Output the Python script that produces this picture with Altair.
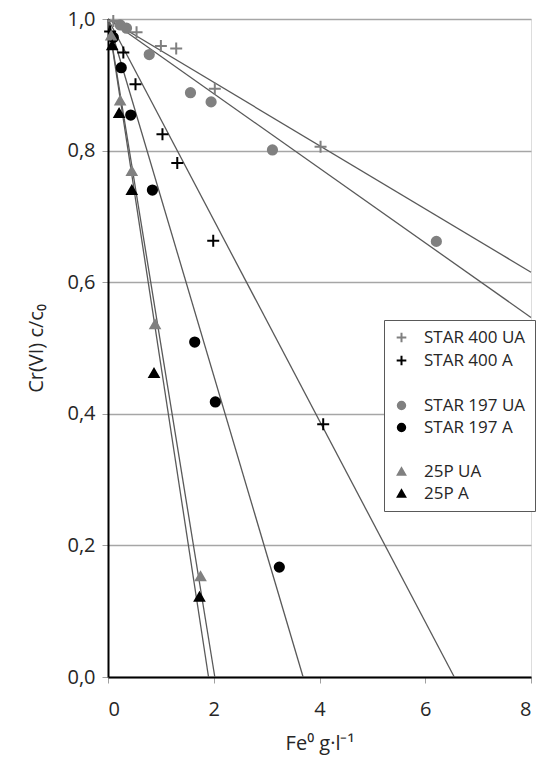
import altair as alt
import pandas as pd

# ---- data ----
series_names = ["STAR 400 UA", "STAR 400 A", "STAR 197 UA", "STAR 197 A", "25P UA", "25P A"]

star400ua_x = [0.10, 0.54, 1.00, 1.29, 2.02, 4.02]
star400ua_y = [0.997, 0.980, 0.959, 0.955, 0.894, 0.806]

star400a_x = [0.04, 0.29, 0.52, 1.03, 1.31, 1.99, 4.07]
star400a_y = [0.981, 0.949, 0.901, 0.825, 0.781, 0.663, 0.384]

star197ua_x = [0.23, 0.35, 0.78, 1.56, 1.95, 3.11, 6.21]
star197ua_y = [0.991, 0.986, 0.946, 0.888, 0.874, 0.801, 0.662]

star197a_x = [0.10, 0.25, 0.43, 0.84, 1.64, 2.03, 3.24]
star197a_y = [0.972, 0.926, 0.854, 0.740, 0.509, 0.418, 0.167]

p25ua_x = [0.06, 0.23, 0.45, 0.89, 1.75]
p25ua_y = [0.975, 0.876, 0.769, 0.536, 0.153]

p25a_x = [0.08, 0.21, 0.45, 0.87, 1.73]
p25a_y = [0.960, 0.857, 0.740, 0.462, 0.122]

# linear trend lines c/c0 = 1 + slope * Fe
trend_slopes = [-0.0481, -0.1527, -0.0567, -0.2710, -0.4950, -0.5260]

x_ticks = [0, 2, 4, 6, 8]
y_ticks = [0.0, 0.2, 0.4, 0.6, 0.8, 1.0]

# ---- build tables ----
xs = [star400ua_x, star400a_x, star197ua_x, star197a_x, p25ua_x, p25a_x]
ys = [star400ua_y, star400a_y, star197ua_y, star197a_y, p25ua_y, p25a_y]
rows = []
for name, sx, sy in zip(series_names, xs, ys):
    for a, b in zip(sx, sy):
        rows.append({"series": name, "x": a, "y": b})
pts = pd.DataFrame(rows)

x_max = 8.0
lrows = []
for name, s in zip(series_names, trend_slopes):
    x_end = min(x_max, -1.0 / s)
    lrows.append({"series": name, "x": 0.0, "y": 1.0})
    lrows.append({"series": name, "x": x_end, "y": 1.0 + s * x_end})
lines = pd.DataFrame(lrows)

# legend order with two blank spacer entries
gap1, gap2 = "gap1", "gap2"
legend_domain = ["STAR 400 UA", "STAR 400 A", gap1, "STAR 197 UA", "STAR 197 A", gap2, "25P UA", "25P A"]
GREY = "#808080"
BLACK = "#000000"
colour_range = [GREY, BLACK, "transparent", GREY, BLACK, "transparent", GREY, BLACK]
PLUS = "M-1.3,0H1.3M0,-1.3V1.3"
shape_range = [PLUS, PLUS, "circle", "circle", "circle", "circle", "triangle-up", "triangle-up"]

FONT = "Open Sans"

legend = alt.Legend(
    title=None,
    orient="none",
    legendX=276,
    legendY=301,
    padding=9,
    strokeColor="#595959",
    fillColor="white",
    labelFont=FONT,
    labelFontSize=17,
    labelColor="#262626",
    symbolSize=55,
    symbolStrokeWidth=2,
    rowPadding=4,
    labelOffset=14,
    labelExpr="indexof(datum.label, 'gap') >= 0 ? '' : datum.label",
)

xscale = alt.Scale(domain=[0, 8], nice=False)
yscale = alt.Scale(domain=[0, 1], nice=False)

xaxis = alt.Axis(
    values=x_ticks, title="Fe⁰ g·l⁻¹", grid=False,
    domainColor="black", domainWidth=2, tickColor="#a0a0a0", tickSize=6,
    labelFont=FONT, labelFontSize=20, labelColor="#262626", labelPadding=16,
    titleFont=FONT, titleFontSize=20, titleFontWeight="normal", titleColor="#262626", titlePadding=14,
)
yaxis = alt.Axis(
    values=y_ticks, title="Cr(VI) c/c₀", grid=True, gridColor="#a6a6a6", gridWidth=1.5,
    labelExpr="replace(format(datum.value, '.1f'), '.', ',')",
    domainColor="black", domainWidth=2, tickColor="#a0a0a0", tickSize=6,
    labelFont=FONT, labelFontSize=20, labelColor="#262626", labelPadding=7,
    titleFont=FONT, titleFontSize=20, titleFontWeight="normal", titleColor="#262626", titlePadding=20,
)

line_layer = alt.Chart(lines).mark_line(color="#595959", strokeWidth=1.3).encode(
    x=alt.X("x:Q", scale=xscale, axis=xaxis),
    y=alt.Y("y:Q", scale=yscale, axis=yaxis),
    detail="series:N",
)

point_layer = alt.Chart(pts).mark_point(filled=True, size=85, strokeWidth=2, opacity=1).encode(
    x=alt.X("x:Q", scale=xscale, axis=xaxis),
    y=alt.Y("y:Q", scale=yscale, axis=yaxis),
    shape=alt.Shape("series:N", scale=alt.Scale(domain=legend_domain, range=shape_range), legend=legend),
    fill=alt.Fill("series:N", scale=alt.Scale(domain=legend_domain, range=colour_range), legend=legend),
    stroke=alt.Stroke("series:N", scale=alt.Scale(domain=legend_domain, range=colour_range), legend=legend),
)

chart = alt.layer(line_layer, point_layer).properties(
    width=423,
    height=658,
    autosize=alt.AutoSizeParams(type="none"),
    padding={"left": 108, "top": 19, "right": 6, "bottom": 95},
).configure_view(
    stroke="black", strokeWidth=2
).configure(background="white")

chart.save("out.html", embed_options={"renderer": "svg", "actions": False})
